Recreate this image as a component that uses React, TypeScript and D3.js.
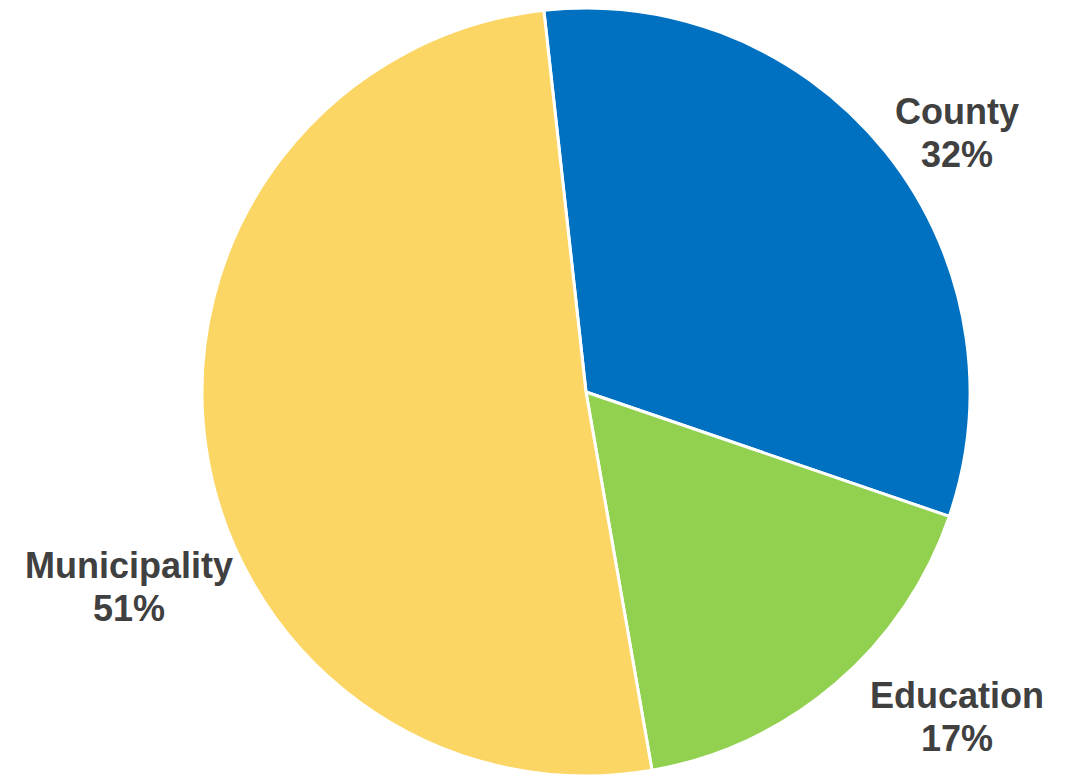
import React from "react";
import * as d3 from "d3";

const categories = ["County", "Education", "Municipality"];
const values = [32, 17, 51];
const colors = ["#0070C0", "#92D050", "#FCD664"];

// label anchor positions (center x, first baseline y)
const labelPos: [number, number][] = [
  [957, 124],
  [957, 708],
  [129, 578],
];

export default function App() {
  const width = 1071;
  const height = 776;
  const cx = 586;
  const cy = 392;
  const r = 384;
  const startDeg = -6.3;
  const start = (startDeg * Math.PI) / 180;

  const pie = d3
    .pie<number>()
    .sort(null)
    .value((d) => d)
    .startAngle(start)
    .endAngle(start + 2 * Math.PI);
  const arcs = pie(values);
  const arc = d3.arc<d3.PieArcDatum<number>>().innerRadius(0).outerRadius(r);

  return (
    <svg
      width={width}
      height={height}
      style={{ position: "absolute", left: 0, top: 0, background: "#fff" }}
    >
      <g transform={`translate(${cx},${cy})`}>
        {arcs.map((a, i) => (
          <path
            key={categories[i]}
            d={arc(a) || ""}
            fill={colors[i]}
            stroke="#fff"
            strokeWidth={3}
            strokeLinejoin="round"
          />
        ))}
      </g>
      {categories.map((c, i) => (
        <text
          key={c}
          x={labelPos[i][0]}
          y={labelPos[i][1]}
          textAnchor="middle"
          fontFamily="Liberation Sans, Arial, sans-serif"
          fontWeight="bold"
          fontSize={36}
          fill="#404040"
        >
          <tspan x={labelPos[i][0]}>{c}</tspan>
          <tspan x={labelPos[i][0]} dy={43}>
            {d3.format(".0%")(values[i] / 100)}
          </tspan>
        </text>
      ))}
    </svg>
  );
}
